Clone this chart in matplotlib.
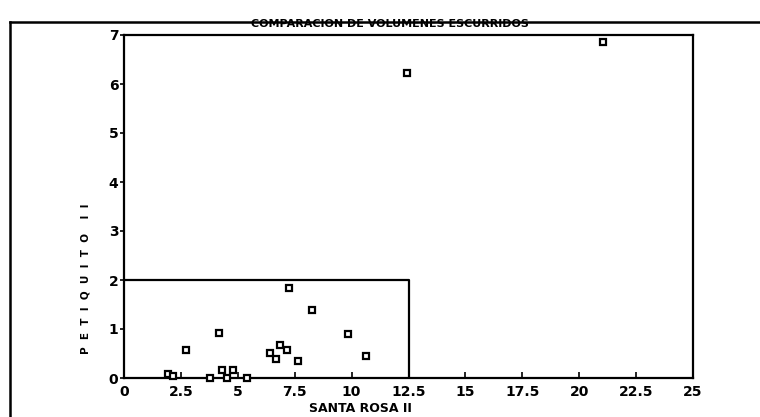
import matplotlib.pyplot as plt
from matplotlib.lines import Line2D

# Volumes
santa_rosa = [1.95, 2.17, 2.72, 3.78, 4.19, 4.29, 4.51, 4.80, 5.39, 6.41,
              6.67, 6.85, 7.17, 7.25, 7.66, 8.26, 9.86, 10.62, 12.42, 21.03]
petiquito = [0.08, 0.05, 0.58, 0.0, 0.91, 0.16, 0.0, 0.16, 0.0, 0.51,
             0.39, 0.68, 0.58, 1.83, 0.34, 1.38, 0.89, 0.44, 6.22, 6.86]
box_x = [0, 12.5, 12.5]
box_y = [2, 2, 0]
xticks = [0, 2.5, 5, 7.5, 10, 12.5, 15, 17.5, 20, 22.5, 25]
xtick_labels = ["0", "2.5", "5", "7.5", "10", "12.5", "15", "17.5", "20", "22.5", "25"]
yticks = [0, 1, 2, 3, 4, 5, 6, 7]

plt.rcParams['font.family'] = ['DejaVu Sans']

fig = plt.figure(figsize=(7.6, 4.17), dpi=100)
ax = fig.add_axes([124 / 760, 39 / 417, 569 / 760, 343 / 417])

ax.plot(santa_rosa, petiquito, linestyle='none', marker='s', markersize=5,
        markerfacecolor='white', markeredgecolor='black', markeredgewidth=1.6,
        clip_on=False, zorder=3)
ax.plot(box_x, box_y, color='black', linewidth=1.6)

ax.set_xlim(0, 25)
ax.set_ylim(0, 7)
ax.set_xticks(xticks)
ax.set_xticklabels(xtick_labels)
ax.set_yticks(yticks)
for s in ax.spines.values():
    s.set_linewidth(1.6)
ax.tick_params(axis='x', direction='in', length=4, width=1.2, pad=5, labelsize=10)
ax.tick_params(axis='y', direction='out', length=3, width=1.2, pad=1, labelsize=10)
for lab in ax.get_xticklabels() + ax.get_yticklabels():
    lab.set_fontweight('bold')

fig.text(390 / 760, 1 - 24 / 417, "COMPARACION DE VOLUMENES ESCURRIDOS",
         ha='center', va='center', fontsize=8, fontweight='bold')
fig.text(360 / 760, 1 - 408 / 417, "SANTA ROSA II",
         ha='center', va='center', fontsize=9, fontweight='bold')
fig.text(85 / 760, 1 - 279 / 417, "P  E  T  I  Q  U  I  T  O    I  I",
         ha='center', va='center', rotation=90, fontsize=7.5, fontweight='bold')

# outer frame of the old printout
fig.add_artist(Line2D([10 / 760, 1.0], [1 - 22 / 417, 1 - 22 / 417],
                      transform=fig.transFigure, color='black', linewidth=1.8))
fig.add_artist(Line2D([10 / 760, 10 / 760], [1 - 22 / 417, 0.0],
                      transform=fig.transFigure, color='black', linewidth=1.8))

fig.savefig("out.png", dpi=100)
